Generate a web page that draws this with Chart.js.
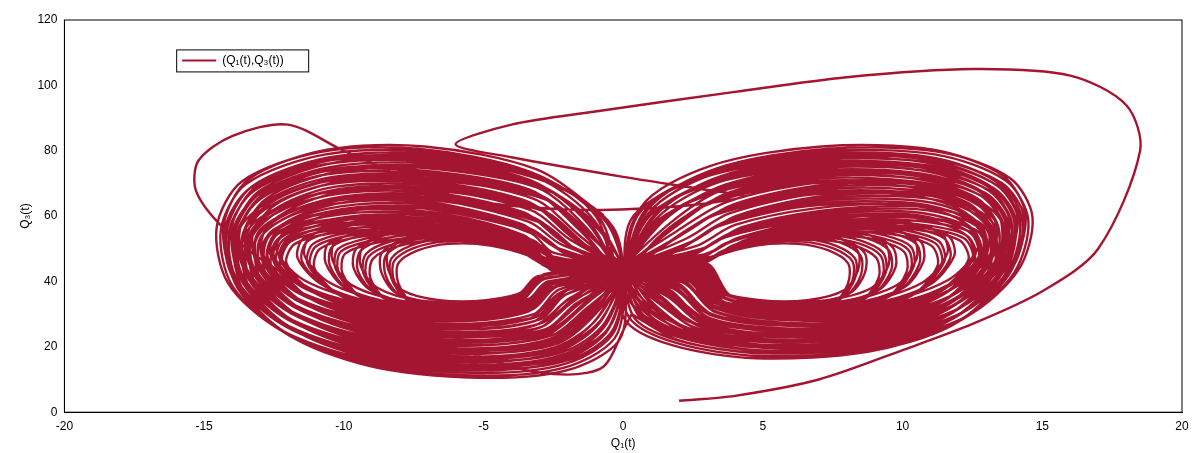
<!DOCTYPE html>
<html><head><meta charset="utf-8">
<script src="https://cdn.jsdelivr.net/npm/chart.js@4/dist/chart.umd.min.js"></script>
<style>html,body{margin:0;background:#fff}#w{width:1202px;height:453px}</style>
</head><body><div id="w"><canvas id="c"></canvas></div>
<script>
const seriesLabel = "(Q\u2081(t),Q\u2083(t))";
const xTicks = [-20,-15,-10,-5,0,5,10,15,20];
const yTicks = [0,20,40,60,80,100,120];
// initial excursion
const startPath = [[2,3.5],[4,5],[7,10],[10,19],[12.5,27],[15,37],[17,50],[18.5,80],[18,94],[16,103],[12.5,105],[8,102.5],[4,98],[-1,92],[-4,88],[-6,82],[-4,78],[0,72],[3,68],[4.3,66],[2,63],[-2,62],[-6,66],[-10,80],[-12,88],[-14,84.5],[-15.2,77],[-15.3,68],[-14.5,58],[-13,47],[-11,37],[-8,26],[-4,14],[-2,11.5],[-0.7,14],[0,25],[0.3,30]];
const rightLoops = [
 [[0.3,30],[2,22],[5,18],[9,20],[12,28],[13.8,42],[14.3,58],[13.5,70],[11,78],[7,79],[3,73],[0.5,60]],
 [[0.6,31],[2.2,23.5],[5.1,19.7],[9,21.6],[11.9,29.4],[13.6,42.9],[14,58],[13.2,68.5],[10.9,75.5],[7,76.5],[3.1,70.5],[0.8,58.5]],
 [[1,33],[2.4,25],[5.3,21.4],[9,23.1],[11.8,30.8],[13.4,43.7],[13.7,57.4],[12.9,67],[10.7,73],[7,74],[3.3,68],[1.1,57]],
 [[1.3,35],[2.7,26.5],[5.4,23],[9,24.7],[11.7,32.2],[13.3,44.5],[13.4,57],[12.6,65.5],[10.5,70.5],[7,71.5],[3.4,65.5],[1.5,55]],
 [[1.6,37],[2.9,28],[5.6,24.8],[9,26.3],[11.7,33.6],[13.1,45.3],[13.2,56.5],[12.2,64],[10.4,68],[6.9,68],[3.6,62],[1.8,53]],
 [[1.9,39],[3.1,29.8],[5.7,26.5],[9,27.8],[11.6,35],[12.9,46.2],[12.9,56],[11.9,62],[10.2,65],[6.8,64.5],[3.7,58.5],[2.2,51]],
 [[2.2,41],[3.3,32],[5.8,28.2],[9,29.4],[11.5,36.5],[12.8,47],[12.6,55],[11.5,59.5],[9.9,61.5],[6.7,60],[3.9,55],[2.5,48.5]],
 [[2.6,44],[3.5,34],[6,30],[9,31],[11.5,38],[12.6,48],[12.3,54],[11,57],[9.5,58],[6.5,56],[4,51],[2.8,46]],
 [[2.6,43.5],[3.4,34.2],[5.7,30.5],[8.4,31.3],[10.6,37.3],[11.5,46.3],[11.3,52.3],[10.2,55.5],[8.8,56.8],[6.1,55.2],[3.9,50.5],[2.8,45.8]],
 [[2.6,43],[3.3,34.5],[5.4,31],[7.8,31.6],[9.7,36.6],[10.4,44.6],[10.3,50.6],[9.4,54],[8.1,55.5],[5.7,54.3],[3.8,50],[2.7,45.5]],
 [[2.6,42.5],[3.3,34.8],[5.1,31.5],[7.2,32],[8.8,35.8],[9.4,42.8],[9.3,48.8],[8.5,52.5],[7.3,54.2],[5.4,53.4],[3.6,49.5],[2.7,45.2]],
 [[2.6,42],[3.2,35],[4.8,32],[6.5,32],[7.8,35],[8.3,41],[8.3,47],[7.6,51],[6.5,53],[5,52.5],[3.5,49],[2.7,45]]
];
const leftLoops = [
 [[-0.3,25],[-2,15],[-5,12],[-9,15],[-12,24],[-13.8,38],[-14.2,55],[-13.3,69],[-10.5,78],[-7,79],[-3,72],[-0.6,58]],
 [[-0.6,27],[-2.2,17.5],[-5.1,14.5],[-9,17.4],[-11.9,26],[-13.6,39.3],[-13.9,54.7],[-13,67],[-10.5,75],[-7,76],[-3,69.5],[-0.9,56]],
 [[-0.9,29],[-2.4,20],[-5.3,17],[-9,19.7],[-11.8,28],[-13.4,40.6],[-13.6,54.4],[-12.7,65],[-10.4,72],[-7.1,72.5],[-3,66.5],[-1.2,54]],
 [[-1.3,31],[-2.6,22.5],[-5.4,19.5],[-9,22],[-11.7,30],[-13.2,41.9],[-13.4,54.1],[-12.3,63],[-10.3,69],[-7.1,69.5],[-3.1,63],[-1.5,52]],
 [[-1.6,33],[-2.8,25],[-5.6,22],[-9,24.5],[-11.6,32],[-13,43.2],[-13.1,53.9],[-11.9,61.5],[-10,66],[-7.1,66.5],[-3.2,59.5],[-1.8,50.5]],
 [[-1.9,35],[-3,27],[-5.7,24.5],[-9,27],[-11.5,34],[-12.8,44.5],[-12.7,53.6],[-11.5,60],[-9.6,63.5],[-7.1,63.5],[-3.3,56],[-2.1,49]],
 [[-2.3,37.5],[-3.2,30],[-5.9,27],[-9,29.3],[-11.4,36],[-12.5,45.8],[-12.3,53.3],[-11,58],[-8.8,60.5],[-6,59],[-3.2,52.5],[-2.4,46.5]],
 [[-2.6,40],[-3.5,33],[-6,30],[-9,31.5],[-11.3,38],[-12.3,47],[-12,53],[-10.5,56.5],[-8,57.5],[-5,55],[-3.2,49],[-2.6,44]],
 [[-2.6,40],[-3.5,33.5],[-5.7,30.5],[-8.4,31.6],[-10.4,37.3],[-11.3,45.5],[-11.1,51.5],[-9.8,55],[-7.6,56.4],[-5,54.4],[-3.3,49],[-2.6,44.3]],
 [[-2.6,40],[-3.4,34],[-5.4,31],[-7.8,31.7],[-9.6,36.5],[-10.3,44],[-10.2,50],[-9,53.5],[-7.2,55.2],[-5,53.8],[-3.4,49],[-2.6,44.6]],
 [[-2.7,40],[-3.4,34.5],[-5.1,31.5],[-7.2,31.9],[-8.7,35.8],[-9.3,42.5],[-9.2,48.5],[-8.3,52.3],[-6.9,54.1],[-5,53.2],[-3.5,49],[-2.7,44.8]],
 [[-2.7,40],[-3.3,35],[-4.8,32],[-6.5,32],[-7.8,35],[-8.3,41],[-8.3,47],[-7.6,51],[-6.5,53],[-5,52.5],[-3.5,49],[-2.7,45]]
];
// small drifts between successive passes over the same loops
const passShifts = [[0,0],[0.2,0.8],[-0.1,-0.8],[0.35,1.6],[-0.25,-1.5],[0.1,2.3]];
const pts = [];
const add = a => a.forEach(p => pts.push({x:p[0], y:p[1]}));
add(startPath);
const n = rightLoops.length;
passShifts.forEach((s, k) => {
  const order = k % 2 ? [...Array(n).keys()].reverse() : [...Array(n).keys()];
  order.forEach(i => {
    add(rightLoops[i].map(p => [p[0] + s[0], p[1] + s[1]]));
    add(leftLoops[i].map(p => [p[0] - s[0], p[1] + s[1]]));
  });
});
const legendBox = { id: 'legbox', afterDraw(ch) {
  const {ctx, chartArea: a} = ch; ctx.save();
  ctx.strokeStyle = '#000'; ctx.lineWidth = 1;
  ctx.strokeRect(a.left, a.top, a.right - a.left, a.bottom - a.top);
  const x0 = ch.scales.x.getPixelForValue(-16), y0 = ch.scales.y.getPixelForValue(111);
  ctx.fillStyle = '#fff'; ctx.fillRect(x0, y0, 132, 22); ctx.strokeRect(x0 + 0.5, y0 + 0.5, 132, 22);
  ctx.strokeStyle = '#a31530'; ctx.lineWidth = 2; ctx.beginPath(); ctx.moveTo(x0 + 6, y0 + 11); ctx.lineTo(x0 + 40, y0 + 11); ctx.stroke();
  ctx.fillStyle = '#000'; ctx.font = '12px "Liberation Sans"'; ctx.textBaseline = 'middle'; ctx.fillText(ch.data.datasets[0].label, x0 + 46, y0 + 11);
  ctx.restore(); } };
new Chart(document.getElementById('c'), {
  type: 'scatter',
  data: { datasets: [{ label: seriesLabel, data: pts, showLine: true, borderColor: '#a31530', backgroundColor: '#a31530', borderWidth: 2.4, pointRadius: 0, tension: 0.3 }] },
  options: {
    responsive: true, maintainAspectRatio: false, animation: false,
    layout: { padding: { left: 16, right: 20, top: 20, bottom: 2 } },
    plugins: { legend: { display: false }, tooltip: { enabled: false } },
    scales: {
      x: { type: 'linear', min: -20, max: 20, afterBuildTicks: s => { s.ticks = xTicks.map(v => ({value: v})); },
        grid: { display: false, tickLength: 4 }, border: { color: '#000' },
        ticks: { color: '#000', font: { family: 'Liberation Sans', size: 12 } },
        title: { display: true, text: 'Q\u2081(t)', color: '#000', font: { family: 'Liberation Sans', size: 12 }, padding: 0 } },
      y: { type: 'linear', min: 0, max: 120, afterBuildTicks: s => { s.ticks = yTicks.map(v => ({value: v})); },
        grid: { display: false, tickLength: 4 }, border: { color: '#000' },
        ticks: { color: '#000', font: { family: 'Liberation Sans', size: 12 } },
        title: { display: true, text: 'Q\u2083(t)', color: '#000', font: { family: 'Liberation Sans', size: 12 }, padding: 2 } }
    }
  },
  plugins: [legendBox]
});
</script></body></html>
